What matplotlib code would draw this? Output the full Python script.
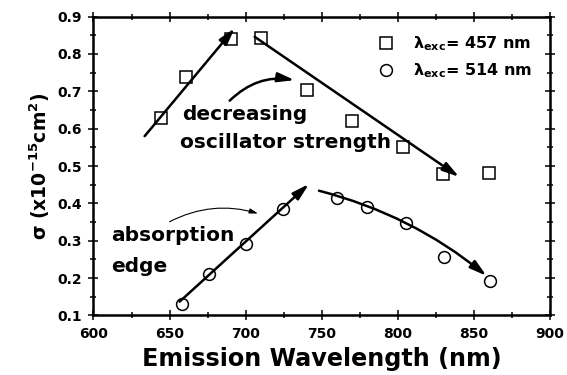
import numpy as np
import matplotlib
matplotlib.use("Agg")
import matplotlib.pyplot as plt
from matplotlib.ticker import MultipleLocator

wl_457 = [644.5, 660.5, 690.6, 709.9, 740.3, 770.2, 803.5, 829.8, 860.1]
sig_457 = [0.628, 0.739, 0.839, 0.844, 0.704, 0.621, 0.552, 0.479, 0.481]
wl_514 = [658.1, 675.7, 700.0, 724.5, 759.7, 779.8, 805.7, 830.5, 860.5]
sig_514 = [0.131, 0.210, 0.291, 0.385, 0.414, 0.390, 0.348, 0.256, 0.193]
labels = [r'$\lambda_{exc}$= 457 nm', r'$\lambda_{exc}$= 514 nm']

# guide arrows: (start, end, curvature, linewidth)
arrow_start = [(633.6, 0.580), (705.9, 0.846), (689.5, 0.675),
               (656.6, 0.137), (748.2, 0.434), (650.0, 0.351)]
arrow_end = [(692.8, 0.869), (840.3, 0.471), (732.2, 0.730),
             (741.6, 0.452), (858.3, 0.206), (708.1, 0.373)]
arrow_rad = [0.0, 0.0, -0.25, 0.0, -0.11, -0.2]
arrow_lw = [1.8, 1.8, 1.8, 1.8, 1.8, 0.8]

notes = ['decreasing', 'oscillator strength', 'absorption', 'edge']
note_xy = [(658.0, 0.639), (657.0, 0.562), (611.3, 0.313), (611.3, 0.231)]

plt.rcParams['font.family'] = 'DejaVu Sans'
plt.rcParams['font.weight'] = 'bold'
plt.rcParams['mathtext.default'] = 'regular'

fig = plt.figure(figsize=(5.67, 3.75), dpi=100)
ax = fig.add_axes([0.1649, 0.1587, 0.970 - 0.1649, 0.9557 - 0.1587])

ax.plot(wl_457, sig_457, ls='none', marker='s', ms=8.5, mfc='white',
        mec='black', mew=1.1, label=labels[0])
ax.plot(wl_514, sig_514, ls='none', marker='o', ms=8.5, mfc='white',
        mec='black', mew=1.1, label=labels[1])

for s, e, r, lw in zip(arrow_start, arrow_end, arrow_rad, arrow_lw):
    if lw > 1:
        style = '-|>,head_length=1.0,head_width=0.28'
    else:
        style = '-|>,head_length=0.5,head_width=0.15'
    ax.annotate('', xy=e, xytext=s,
                arrowprops=dict(arrowstyle=style, lw=lw, color='black',
                                shrinkA=0, shrinkB=0, mutation_scale=10,
                                connectionstyle='arc3,rad=%g' % r))

for t, (x, y) in zip(notes, note_xy):
    ax.text(x, y, t, fontsize=14.5, fontweight='bold', ha='left', va='center')

ax.set_xlim(600, 900)
ax.set_ylim(0.1, 0.9)
ax.xaxis.set_major_locator(MultipleLocator(50))
ax.xaxis.set_minor_locator(MultipleLocator(25))
ax.yaxis.set_major_locator(MultipleLocator(0.1))
ax.yaxis.set_minor_locator(MultipleLocator(0.05))
ax.yaxis.set_major_formatter(plt.FuncFormatter(lambda v, p: '%.1f' % v))

ax.tick_params(which='major', direction='inout', length=7, width=1.1,
               top=True, right=True, labelsize=10, pad=5)
ax.tick_params(which='minor', direction='inout', length=4, width=1.1,
               top=True, right=True)
for sp in ax.spines.values():
    sp.set_linewidth(1.8)

ax.set_xlabel('Emission Wavelength (nm)', fontsize=17.2, fontweight='bold',
              labelpad=4)
ax.set_ylabel(r'$\sigma$ (x10$^{-15}$cm$^{2}$)', fontsize=13.5,
              fontweight='bold', labelpad=4)

leg = ax.legend(loc='upper left', bbox_to_anchor=(0.6226, 0.94),
                frameon=False, fontsize=11.5, handlelength=1.0,
                handletextpad=1.2, borderpad=0, borderaxespad=0,
                labelspacing=0.5)

fig.savefig('out.png', dpi=100)
